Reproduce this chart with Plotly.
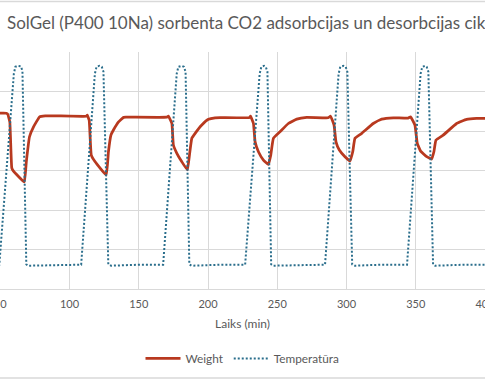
import plotly.graph_objects as go

# Weight series (time in min, weight in arbitrary units)
weight_t = [48.6, 54.3, 55.4, 56.9, 58.3, 59.4, 67.3, 68.8, 71.1, 74.0, 78.4, 82.5,
            112.0, 112.8, 114.2, 115.7, 118.5, 126.5, 128.1, 129.9, 131.7, 135.4, 139.0, 140.9,
            170.3, 171.4, 173.9, 175.0, 177.5, 181.1, 185.1, 186.6, 188.3, 190.7, 195.5, 200.3, 205.1, 208.7,
            229.9, 230.7, 232.8, 234.0, 236.4, 240.0, 243.6, 245.3, 247.2, 252.0, 258.0, 264.1, 271.3,
            286.7, 288.5, 291.0, 292.4, 294.8, 298.9, 302.5, 304.5, 306.1, 311.0, 319.3, 325.4, 333.8,
            344.4, 346.3, 349.4, 351.1, 353.5, 357.9, 361.5, 363.1, 364.6, 369.8, 379.5, 386.7, 393.9, 403.5]
weight_v = [102.90, 102.90, 102.85, 102.45, 100.13, 99.98, 99.42, 100.44, 101.71, 102.21, 102.72, 102.77,
            102.75, 102.80, 102.55, 100.78, 100.44, 99.77, 100.95, 101.79, 102.05, 102.46, 102.69, 102.70,
            102.70, 102.75, 102.38, 101.29, 100.87, 100.44, 100.03, 100.78, 101.63, 101.88, 102.30, 102.59, 102.67, 102.68,
            102.68, 102.75, 102.38, 101.45, 100.95, 100.53, 100.31, 100.78, 101.63, 101.96, 102.38, 102.60, 102.69,
            102.67, 102.75, 102.30, 101.45, 101.04, 100.70, 100.48, 100.95, 101.63, 101.88, 102.38, 102.60, 102.67,
            102.65, 102.72, 102.30, 101.37, 100.98, 100.70, 100.58, 100.95, 101.54, 101.79, 102.38, 102.59, 102.64, 102.64]

# Temperature series
temp_t = [45.0, 49.3, 59.8, 60.9, 62.5, 64.8, 66.0, 68.8, 70.0, 90.0, 108.4,
          118.3, 119.5, 121.5, 123.3, 124.5, 128.0, 130.0, 150.0, 167.6,
          177.4, 178.6, 181.0, 182.6, 183.8, 186.5, 188.0, 210.0, 226.8,
          237.3, 238.5, 240.5, 241.7, 242.9, 245.6, 247.0, 270.0, 284.5,
          294.3, 295.5, 297.8, 299.4, 300.6, 304.1, 306.0, 325.0, 343.7,
          353.5, 354.7, 356.8, 357.9, 359.1, 362.5, 364.0, 385.0, 405.0]
temp_v = [32.3, 32.3, 129.0, 132.5, 133.0, 132.8, 130.5, 32.5, 31.8, 32.2, 32.3,
          129.0, 132.5, 133.0, 132.5, 130.0, 32.5, 31.8, 32.3, 32.3,
          129.0, 132.5, 133.0, 132.5, 130.0, 32.5, 31.8, 32.3, 32.3,
          129.0, 132.5, 133.0, 132.5, 130.0, 32.5, 31.8, 32.3, 32.3,
          129.0, 132.5, 133.0, 132.5, 130.0, 32.5, 31.8, 32.3, 32.3,
          129.0, 132.5, 133.0, 132.5, 130.0, 32.5, 31.8, 32.3, 32.3]

x_ticks = [50, 100, 150, 200, 250, 300, 350, 400]

title_text = "SolGel (P400 10Na) sorbenta CO2 adsorbcijas un desorbcijas cikli"
grid = "#D9D9D9"
txt = "#595959"
FONT = "Lato"

fig = go.Figure()
fig.add_trace(go.Scatter(x=weight_t, y=weight_v, name="Weight", mode="lines",
                         line=dict(color="#B8391F", width=2.75, shape="spline", smoothing=0.3)))
fig.add_trace(go.Scatter(x=temp_t, y=temp_v, name="Temperatūra", mode="lines", yaxis="y2",
                         line=dict(color="#2A6E8C", width=2, dash="2px,2px")))

fig.update_layout(
    width=485, height=380,
    margin=dict(l=0, r=0, t=51.7, b=90.7, autoexpand=False),
    paper_bgcolor="white", plot_bgcolor="white",
    font=dict(family=FONT, color=txt, size=11),
    showlegend=True,
    legend=dict(orientation="h", x=0.5, xanchor="center", y=-0.293, yanchor="middle",
                font=dict(size=11.8, color=txt), itemwidth=35),
    xaxis=dict(range=[49.8, 400], tickvals=x_ticks, showgrid=True, gridcolor=grid, gridwidth=1,
               showline=True, linecolor=grid, linewidth=1, zeroline=False, ticks="",
               automargin=False, ticklabeloverflow="allow", ticklabelstandoff=5,
               tickfont=dict(size=11, color=txt),
               title=dict(text="Laiks (min)", font=dict(size=12, color=txt), standoff=10)),
    yaxis=dict(range=[94, 106], dtick=2, showgrid=True, gridcolor=grid, gridwidth=1,
               showticklabels=False, zeroline=False, showline=False, ticks="", automargin=False),
    yaxis2=dict(range=[20, 140], overlaying="y", side="right", showgrid=False, automargin=False,
                showticklabels=False, zeroline=False, showline=False, ticks=""),
    annotations=[dict(text=title_text, xref="paper", yref="paper", x=0.0103, y=1.125,
                      xanchor="left", yanchor="middle", showarrow=False,
                      font=dict(size=17, color=txt, family=FONT))],
    shapes=[dict(type="line", xref="paper", yref="paper", x0=0, x1=1, y0=1.2134, y1=1.2134,
                 line=dict(color=grid, width=1.5)),
            dict(type="line", xref="paper", yref="paper", x0=0, x1=1, y0=-0.375, y1=-0.375,
                 line=dict(color=grid, width=1.5))],
)

fig.write_html("out.html", config={"displayModeBar": False},
               post_script="document.body.style.margin='0px';document.body.style.overflow='hidden';")
